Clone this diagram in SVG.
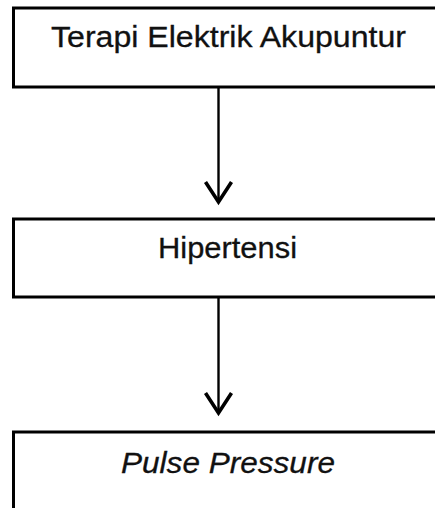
<svg xmlns="http://www.w3.org/2000/svg" width="435" height="508" viewBox="0 0 435 508">
<style>
.box{fill:#fff;stroke:#000;stroke-width:3}
.lbl{font-family:"Liberation Sans",Arial,sans-serif;font-size:29px;fill:#111;stroke:#111;stroke-width:0.3}
.con{fill:none;stroke:#000;stroke-width:2.4}
.head{fill:none;stroke:#000;stroke-width:3.6;stroke-linejoin:miter}
</style>
<rect width="435" height="508" fill="#fff"/>
<g id="connectors">
<line class="con" x1="218.5" y1="87" x2="218.5" y2="201"/>
<polyline class="head" points="205.5,182 218.5,202 231.5,182"/>
<line class="con" x1="218.5" y1="297" x2="218.5" y2="412"/>
<polyline class="head" points="205.5,393 218.5,413 231.5,393"/>
</g>
<g id="node-terapi">
<rect class="box" x="13.5" y="8" width="440" height="79"/>
<text class="lbl" x="51" y="47" textLength="355" lengthAdjust="spacingAndGlyphs">Terapi Elektrik Akupuntur</text>
</g>
<g id="node-hipertensi">
<rect class="box" x="13.5" y="219" width="440" height="78"/>
<text class="lbl" x="158" y="258" textLength="139" lengthAdjust="spacingAndGlyphs">Hipertensi</text>
</g>
<g id="node-pulse">
<rect class="box" x="13.5" y="432" width="440" height="100"/>
<text class="lbl" x="121" y="473" font-style="italic" textLength="214" lengthAdjust="spacingAndGlyphs">Pulse Pressure</text>
</g>
</svg>
